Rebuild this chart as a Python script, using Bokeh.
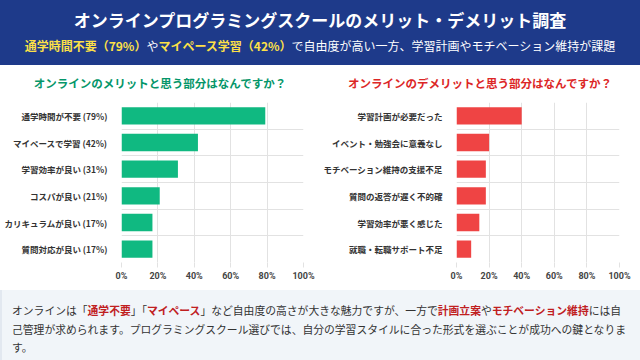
from bokeh.plotting import figure
from bokeh.models import Div, Range1d, FixedTicker, ColumnDataSource
from bokeh.layouts import column, row
from bokeh.embed import file_html
from bokeh.resources import INLINE

merit_labels = ["通学時間が不要 (79%)", "マイペースで学習 (42%)", "学習効率が良い (31%)",
                "コスパが良い (21%)", "カリキュラムが良い (17%)", "質問対応が良い (17%)"]
merit_values = [79, 42, 31, 21, 17, 17]

demerit_labels = ["学習計画が必要だった", "イベント・勉強会に意義なし", "モチベーション維持の支援不足",
                  "質問の返答が遅く不的確", "学習効率が悪く感じた", "就職・転職サポート不足"]
demerit_values = [40, 20, 18, 18, 14, 9]

x_ticks = [0, 20, 40, 60, 80, 100]
x_tick_labels = ["0%", "20%", "40%", "60%", "80%", "100%"]

JP = "'Noto Sans CJK JP', 'Noto Sans', sans-serif"
GRID = "#e2e2e2"


def make_chart(labels, values, color, left, right):
    n = len(labels)
    p = figure(width=320, height=195, x_range=Range1d(0, 100), y_range=Range1d(n, 0),
               output_backend="svg", toolbar_location=None,
               min_border_left=left, min_border_right=right,
               min_border_top=7, min_border_bottom=28)
    p.margin = 0
    p.outline_line_color = None
    p.background_fill_color = "white"
    p.border_fill_color = "white"
    src = ColumnDataSource(dict(y=[i + 0.5 for i in range(n)], v=values))
    p.hbar(y="y", right="v", left=0, height=0.65, source=src, fill_color=color,
           line_color=None)
    # x axis
    p.xaxis.ticker = FixedTicker(ticks=x_ticks)
    p.xaxis.major_label_overrides = {t: l for t, l in zip(x_ticks, x_tick_labels)}
    p.xaxis.axis_line_color = None
    p.xaxis.major_tick_line_color = GRID
    p.xaxis.major_tick_out = 5
    p.xaxis.major_tick_in = 0
    p.xaxis.minor_tick_line_color = None
    p.xaxis.major_label_standoff = 3
    p.xaxis.major_label_text_font = "Roboto"
    p.xaxis.major_label_text_font_style = "bold"
    p.xaxis.major_label_text_font_size = "9px"
    p.xaxis.major_label_text_color = "#444444"
    # y axis
    centers = [i + 0.5 for i in range(n)]
    p.yaxis.ticker = FixedTicker(ticks=centers)
    p.yaxis.major_label_overrides = {c: l for c, l in zip(centers, labels)}
    p.yaxis.axis_line_color = None
    p.yaxis.major_tick_line_color = None
    p.yaxis.minor_tick_line_color = None
    p.yaxis.major_label_standoff = 8
    p.yaxis.major_label_text_font = "Noto Sans CJK JP"
    p.yaxis.major_label_text_font_style = "bold"
    p.yaxis.major_label_text_font_size = "8.5px"
    p.yaxis.major_label_text_color = "#333333"
    # grids
    p.xgrid.ticker = FixedTicker(ticks=x_ticks)
    p.xgrid.grid_line_color = GRID
    p.ygrid.ticker = FixedTicker(ticks=list(range(n + 1)))
    p.ygrid.grid_line_color = GRID
    return p


def title_div(text, color):
    return Div(text=f'<div style="width:320px;height:30px;text-align:center;'
                    f'font-family:{JP};font-size:11.5px;font-weight:bold;color:{color};'
                    f'line-height:16px;padding-top:10px;box-sizing:border-box;background:white;">{text}</div>',
               width=320, height=30, margin=0)


header = Div(text=(
    f'<div style="width:640px;height:65px;background:#1e3a8a;text-align:center;font-family:{JP};'
    f'box-sizing:border-box;padding-top:9px;">'
    f'<div style="font-size:17px;line-height:22px;font-weight:bold;color:#ffffff;">'
    f'オンラインプログラミングスクールのメリット・デメリット調査</div>'
    f'<div style="margin-top:7px;font-size:12px;line-height:16px;color:#ffffff;">'
    f'<span style="color:#fde047;font-weight:bold;">通学時間不要（79%）</span>や'
    f'<span style="color:#fde047;font-weight:bold;">マイペース学習（42%）</span>'
    f'で自由度が高い一方、学習計画やモチベーション維持が課題</div></div>'),
    width=640, height=65, margin=0)

R = "color:#c0201f;font-weight:bold;"
footer = Div(text=(
    f'<div style="width:640px;height:71px;background:#f1f5f9;border-left:2px solid #e2e8f0;'
    f'box-sizing:border-box;padding:11px 0 0 10px;font-family:{JP};font-size:10.8px;'
    f'line-height:18.5px;color:#333333;white-space:nowrap;">'
    f'オンラインは「<span style="{R}">通学不要</span>」「<span style="{R}">マイペース</span>」'
    f'など自由度の高さが大きな魅力ですが、一方で<span style="{R}">計画立案</span>や'
    f'<span style="{R}">モチベーション維持</span>には自<br>'
    f'己管理が求められます。プログラミングスクール選びでは、自分の学習スタイルに合った形式を選ぶことが成功への鍵となりま<br>'
    f'す。</div>'),
    width=640, height=71, margin=0)

left_chart = make_chart(merit_labels, merit_values, "#10b981", 121, 17)
right_chart = make_chart(demerit_labels, demerit_values, "#ef4444", 135, 21)

left_col = column(title_div("オンラインのメリットと思う部分はなんですか？", "#059669"), left_chart,
                  spacing=0, margin=0)
right_col = column(title_div("オンラインのデメリットと思う部分はなんですか？", "#dc2626"), right_chart,
                   spacing=0, margin=0)
mid = row(left_col, right_col, spacing=0, margin=0)
layout = column(header, mid, footer, spacing=0, margin=0)

open("out.html", "w").write(file_html(layout, INLINE))
